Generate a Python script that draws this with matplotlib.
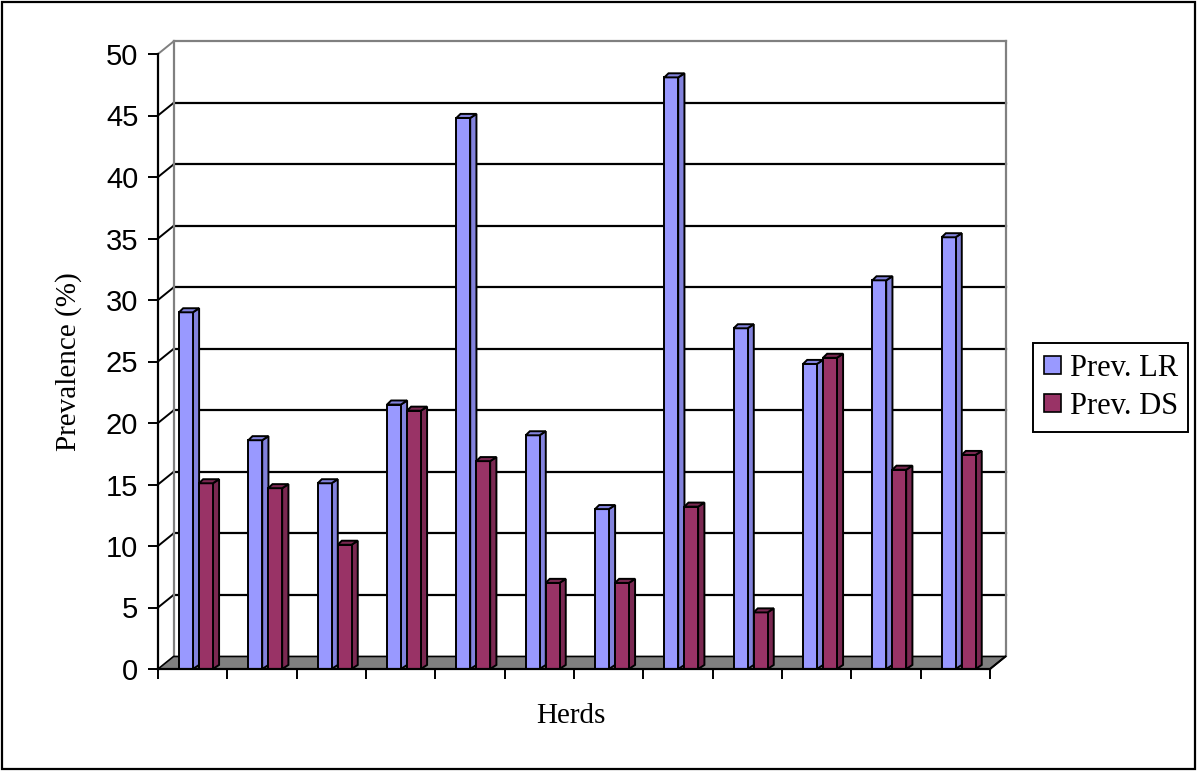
import numpy as np
import matplotlib.pyplot as plt
from matplotlib.patches import Polygon, Rectangle, Patch

# prevalence per herd (%)
herds = np.arange(12)
prev_lr = [29.0, 18.6, 15.1, 21.5, 44.8, 19.0, 13.0, 48.1, 27.7, 24.8, 31.6, 35.1]
prev_ds = [15.1, 14.7, 10.1, 21.0, 16.9, 7.0, 7.0, 13.2, 4.6, 25.3, 16.2, 17.4]
series_names = ['Prev. LR', 'Prev. DS']
yticks = np.arange(0, 55, 5)

lr_face, lr_side = '#9999ff', '#8282dc'
ds_face, ds_side = '#993366', '#7a2851'

# fake depth of the chart box (category units, value units)
DX, DY = 0.224, 1.02
# bar geometry inside one category
BW, SW = 0.20, 0.09
TX, TY = 0.06, 0.33

fig = plt.figure(figsize=(11.99, 7.71), dpi=100)
fig.patches.append(Rectangle((2 / 1199, 2 / 771), 1193 / 1199, 767 / 771,
                             transform=fig.transFigure, fill=False,
                             edgecolor='black', lw=1.6))

ax = fig.add_axes([158 / 1199, 102 / 771, 832 / 1199, 615 / 771])
ax.set_xlim(0, 12)
ax.set_ylim(0, 50)
ax.patch.set_visible(False)
for s in ['top', 'right']:
    ax.spines[s].set_visible(False)
for s in ['left', 'bottom']:
    ax.spines[s].set_linewidth(1.6)
    ax.spines[s].set_zorder(6)

# back wall with gridlines and the side-wall diagonals
for y in yticks[1:]:
    c = 'gray' if y == 50 else 'black'
    ax.plot([DX, 12 + DX], [y + DY, y + DY], color=c, lw=1.6, clip_on=False, zorder=1)
    ax.plot([0, DX], [y, y + DY], color=c, lw=1.4, clip_on=False, zorder=1)
ax.plot([DX, DX], [DY, 50 + DY], color='gray', lw=1.6, clip_on=False, zorder=1)
ax.plot([12 + DX, 12 + DX], [DY, 50 + DY], color='gray', lw=1.6, clip_on=False, zorder=1)

# floor
ax.add_patch(Polygon([(0, 0), (12, 0), (12 + DX, DY), (DX, DY)], closed=True,
                     facecolor='#808080', edgecolor='black', lw=1.2,
                     clip_on=False, zorder=2))


def bar3d(x0, v, face, side):
    xa, xb = x0 + BW, x0 + BW + SW
    ax.add_patch(Polygon([(xa, 0), (xb, TY), (xb, v + TY), (xa, v)], closed=True,
                         facecolor=side, edgecolor='black', lw=1.4,
                         clip_on=False, zorder=3))
    ax.add_patch(Rectangle((x0, 0), BW, v, facecolor=face, edgecolor='black',
                           lw=1.4, clip_on=False, zorder=4))
    ax.add_patch(Polygon([(x0, v), (x0 + TX, v + TY), (xb, v + TY), (xa, v)],
                         closed=True, facecolor=side, edgecolor='black', lw=1.4,
                         clip_on=False, zorder=5))


for i in herds:
    bar3d(i + 0.303, prev_lr[i], lr_face, lr_side)
    bar3d(i + 0.591, prev_ds[i], ds_face, ds_side)

# right edge of the floor
ax.plot([12, 12 + DX], [0, DY], color='black', lw=1.4, clip_on=False, zorder=6)

ax.set_yticks(yticks)
ax.set_yticklabels([str(t) for t in yticks], fontsize=21, family='Liberation Sans')
ax.set_xticks(np.arange(13))
ax.set_xticklabels([])
ax.tick_params(axis='both', direction='out', length=7.2, width=1.4, color='black')
ax.tick_params(axis='y', pad=7)

ax.set_ylabel('Prevalence (%)', fontsize=21, family='Liberation Serif')
ax.yaxis.set_label_coords(-0.091, 0.5)
fig.text(571 / 1199, 1 - 716 / 771, 'Herds', fontsize=21, family='Liberation Serif',
         ha='center', va='center')

handles = [Patch(facecolor=lr_face, edgecolor='black', lw=1.2),
           Patch(facecolor=ds_face, edgecolor='black', lw=1.2)]
leg = fig.legend(handles, series_names, loc='upper left',
                 bbox_to_anchor=(1033 / 1199, 1 - 343 / 771),
                 prop={'family': 'Liberation Serif', 'size': 22},
                 fancybox=False, edgecolor='black', framealpha=1,
                 handlelength=0.55, handleheight=0.55, handletextpad=0.3,
                 borderpad=0.35, borderaxespad=0, labelspacing=0.3)
leg.get_frame().set_linewidth(1.4)

fig.savefig('out.png', dpi=100)
